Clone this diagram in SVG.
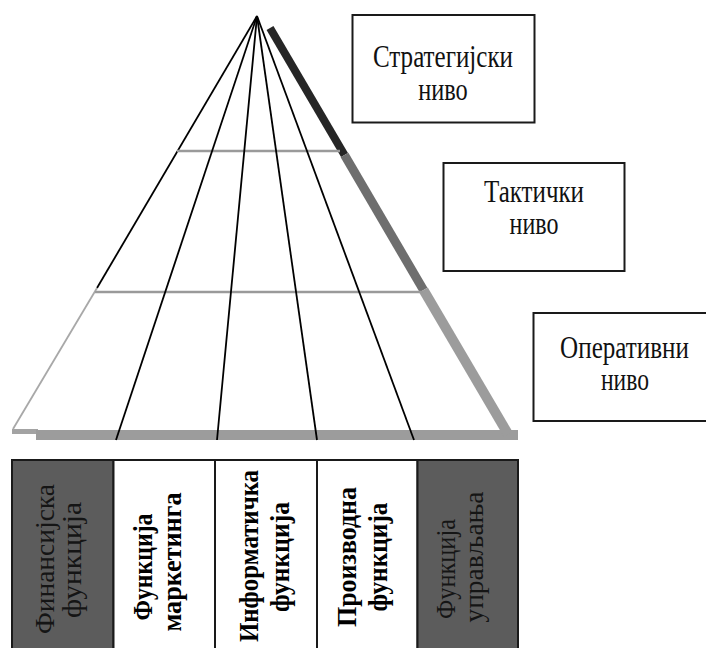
<svg xmlns="http://www.w3.org/2000/svg" width="706" height="648" viewBox="0 0 706 648">
  <style>
    .lbl { font-family: "Liberation Serif", "Times New Roman", serif; font-size: 31px; fill: #111; text-anchor: middle; }
    .box { fill: #fff; stroke: #1a1a1a; stroke-width: 2; }
    .col-dark { fill: #5c5c5c; stroke: #1a1a1a; stroke-width: 2; }
    .col-light { fill: #fff; stroke: #1a1a1a; stroke-width: 2; }
    .ct { font-family: "Liberation Serif", "Times New Roman", serif; font-size: 27px; text-anchor: middle; }
    .ct-dark { fill: #151515; }
    .ct-light { fill: #000000; font-weight: bold; }
    .fn { stroke: #000; stroke-width: 1.8; fill: none; }
    .lvl { stroke: #9a9a9a; stroke-width: 2.5; fill: none; }
  </style>
  <rect x="0" y="0" width="706" height="648" fill="#fff"/>

  <g id="pyramid">
    <rect x="12" y="429" width="26" height="5" fill="#a3a3a3"/>
    <rect x="36" y="430" width="482" height="10" fill="#9c9c9c"/>
    <line x1="270" y1="28" x2="344.5" y2="155" stroke="#262626" stroke-width="8"/>
    <line x1="344.5" y1="155" x2="423.5" y2="290" stroke="#6e6e6e" stroke-width="9"/>
    <line x1="423.5" y1="290" x2="508" y2="434" stroke="#9c9c9c" stroke-width="10"/>
    <line x1="257" y1="16" x2="97" y2="288" stroke="#000" stroke-width="1.8"/>
    <line x1="97" y1="288" x2="13" y2="429" stroke="#a8a8a8" stroke-width="1.8"/>
    <line class="lvl" x1="177" y1="151" x2="340" y2="151"/>
    <line class="lvl" x1="95" y1="292" x2="423" y2="292"/>
  </g>

  <g id="connectors">
    <line class="fn" x1="257" y1="16" x2="116" y2="440"/>
    <line class="fn" x1="257" y1="16" x2="217" y2="440"/>
    <line class="fn" x1="257" y1="16" x2="317" y2="440"/>
    <line class="fn" x1="257" y1="16" x2="414" y2="440"/>
  </g>

  <g id="strategic">
    <rect class="box" x="352.5" y="15" width="182" height="107.5"/>
    <text class="lbl" transform="translate(443,67) scale(0.8,1)" textLength="175" lengthAdjust="spacingAndGlyphs">Стратегијски</text>
    <text class="lbl" transform="translate(443,100) scale(0.8,1)" textLength="62" lengthAdjust="spacingAndGlyphs">ниво</text>
  </g>
  <g id="tactical">
    <rect class="box" x="443.5" y="163" width="181" height="108"/>
    <text class="lbl" transform="translate(534,202) scale(0.8,1)" textLength="125" lengthAdjust="spacingAndGlyphs">Тактички</text>
    <text class="lbl" transform="translate(534,234) scale(0.8,1)" textLength="61" lengthAdjust="spacingAndGlyphs">ниво</text>
  </g>
  <g id="operational">
    <path class="box" d="M706,313 H533.5 V421 H706"/>
    <text class="lbl" transform="translate(624.5,358) scale(0.8,1)" textLength="161" lengthAdjust="spacingAndGlyphs">Оперативни</text>
    <text class="lbl" transform="translate(625,390) scale(0.8,1)" textLength="60" lengthAdjust="spacingAndGlyphs">ниво</text>
  </g>

  <g id="col-finance">
    <rect class="col-dark" x="12" y="460" width="101.5" height="200"/>
    <text class="ct ct-dark" transform="translate(54,559) rotate(-90)" textLength="150" lengthAdjust="spacingAndGlyphs">Финансијска</text>
    <text class="ct ct-dark" transform="translate(81,560) rotate(-90)" textLength="116" lengthAdjust="spacingAndGlyphs">функција</text>
  </g>
  <g id="col-marketing">
    <rect class="col-light" x="113.5" y="460" width="101.5" height="200"/>
    <text class="ct ct-light" transform="translate(152,567) rotate(-90)" textLength="107" lengthAdjust="spacingAndGlyphs">Функција</text>
    <text class="ct ct-light" transform="translate(181,562) rotate(-90)" textLength="139" lengthAdjust="spacingAndGlyphs">маркетинга</text>
  </g>
  <g id="col-it">
    <rect class="col-light" x="215" y="460" width="102" height="200"/>
    <text class="ct ct-light" transform="translate(258,556) rotate(-90)" textLength="172" lengthAdjust="spacingAndGlyphs">Информатичка</text>
    <text class="ct ct-light" transform="translate(289,557) rotate(-90)" textLength="110" lengthAdjust="spacingAndGlyphs">функција</text>
  </g>
  <g id="col-production">
    <rect class="col-light" x="317" y="460" width="100.5" height="200"/>
    <text class="ct ct-light" transform="translate(356,557) rotate(-90)" textLength="140" lengthAdjust="spacingAndGlyphs">Производна</text>
    <text class="ct ct-light" transform="translate(387,557) rotate(-90)" textLength="109" lengthAdjust="spacingAndGlyphs">функција</text>
  </g>
  <g id="col-management">
    <rect class="col-dark" x="417.5" y="460" width="100.5" height="200"/>
    <text class="ct ct-dark" transform="translate(455,569) rotate(-90)" textLength="100" lengthAdjust="spacingAndGlyphs">Функција</text>
    <text class="ct ct-dark" transform="translate(483,557) rotate(-90)" textLength="131" lengthAdjust="spacingAndGlyphs">управљања</text>
  </g>
</svg>
